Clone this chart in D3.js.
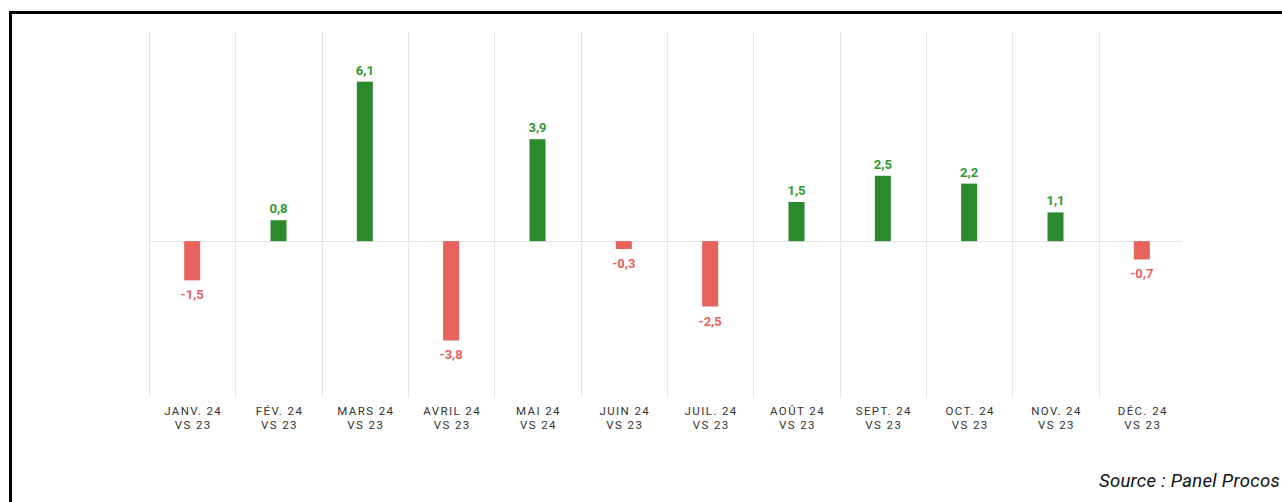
<!DOCTYPE html>
<html>
<head>
<meta charset="utf-8">
<script src="https://cdn.jsdelivr.net/npm/d3@7"></script>
<style>
    html, body { margin: 0; padding: 0; background: #fff; }
    svg { display: block; }
</style>
</head>
<body>
<svg id="chart"></svg>
<script>
/* Monthly variation chart, 2024 vs 2023.
 * Green bars above zero, red bars below, values printed at the bar ends.
 */
var months = ["JANV. 24", "FÉV. 24", "MARS 24", "AVRIL 24", "MAI 24", "JUIN 24",
              "JUIL. 24", "AOÛT 24", "SEPT. 24", "OCT. 24", "NOV. 24", "DÉC. 24"];
var compareLabels = ["VS 23", "VS 23", "VS 23", "VS 23", "VS 24", "VS 23",
                     "VS 23", "VS 23", "VS 23", "VS 23", "VS 23", "VS 23"];
var values = [-1.5, 0.8, 6.1, -3.8, 3.9, -0.3, -2.5, 1.5, 2.5, 2.2, 1.1, -0.7];
var yDomain = [-6, 8];
var sourceText = "Source : Panel Procos";

(function () {
    "use strict";

    var width = 1282, height = 502;
    var plot = { left: 149, right: 1185, top: 32, bottom: 398 };

    var svg = d3.select("#chart")
        .attr("width", width)
        .attr("height", height);

    var x = d3.scaleBand()
        .domain(months)
        .range([plot.left, plot.right])
        .paddingInner(0)
        .paddingOuter(0);

    var y = d3.scaleLinear()
        .domain(yDomain)
        .range([plot.bottom, plot.top]);

    var barWidth = 16;
    var green = "#2b8a2b", red = "#e8625d";
    var greenText = "#2e9a2e", redText = "#e8625d";

    // frame: top and left edges only
    svg.append("path")
        .attr("d", "M10.5,502 V12.5 H1282")
        .attr("fill", "none")
        .attr("stroke", "#000")
        .attr("stroke-width", 3);

    // vertical grid lines at band starts
    svg.append("g")
        .selectAll("line")
        .data(months)
        .join("line")
        .attr("x1", function (d) { return Math.round(x(d)) + 0.5; })
        .attr("x2", function (d) { return Math.round(x(d)) + 0.5; })
        .attr("y1", plot.top)
        .attr("y2", plot.bottom)
        .attr("stroke", "#e6e6e6")
        .attr("stroke-width", 1);

    // zero line
    svg.append("line")
        .attr("x1", plot.left)
        .attr("x2", plot.right - 3)
        .attr("y1", Math.round(y(0)) + 0.5)
        .attr("y2", Math.round(y(0)) + 0.5)
        .attr("stroke", "#e3e3e3")
        .attr("stroke-width", 1);

    var data = months.map(function (m, i) {
        return { month: m, cmp: compareLabels[i], value: values[i] };
    });

    svg.append("g")
        .selectAll("rect")
        .data(data)
        .join("rect")
        .attr("x", function (d) { return x(d.month) + x.bandwidth() / 2 - barWidth / 2; })
        .attr("y", function (d) { return y(Math.max(0, d.value)); })
        .attr("width", barWidth)
        .attr("height", function (d) { return Math.abs(y(d.value) - y(0)); })
        .attr("fill", function (d) { return d.value >= 0 ? green : red; });

    svg.append("g")
        .selectAll("text")
        .data(data)
        .join("text")
        .attr("x", function (d) { return x(d.month) + x.bandwidth() / 2; })
        .attr("y", function (d) { return d.value >= 0 ? y(d.value) - 7 : y(d.value) + 19; })
        .attr("text-anchor", "middle")
        .attr("font-family", "Roboto, 'Liberation Sans', sans-serif")
        .attr("font-weight", "bold")
        .attr("font-size", 13)
        .attr("fill", function (d) { return d.value >= 0 ? greenText : redText; })
        .text(function (d) { return d3.format(".1f")(d.value).replace(".", ",").replace("−", "-"); });

    // category labels, two lines
    var labels = svg.append("g")
        .attr("font-family", "Roboto, 'Liberation Sans', sans-serif")
        .attr("font-size", 11.5)
        .attr("fill", "#333")
        .attr("text-anchor", "middle")
        .style("letter-spacing", "1.4px")
        .selectAll("text")
        .data(data)
        .join("text")
        .attr("x", function (d) { return x(d.month) + x.bandwidth() / 2 + 1; })
        .attr("y", 415);

    labels.append("tspan")
        .attr("x", function (d) { return x(d.month) + x.bandwidth() / 2 + 1; })
        .text(function (d) { return d.month; });
    labels.append("tspan")
        .attr("x", function (d) { return x(d.month) + x.bandwidth() / 2 + 1; })
        .attr("dy", 14)
        .text(function (d) { return d.cmp; });

    svg.append("text")
        .attr("x", 1280)
        .attr("y", 487)
        .attr("text-anchor", "end")
        .attr("font-family", "Roboto, sans-serif")
        .attr("font-style", "italic")
        .attr("font-size", 18.5)
        .style("letter-spacing", "0.3px")
        .attr("fill", "#111")
        .text(sourceText);
})();
</script>
</body>
</html>
